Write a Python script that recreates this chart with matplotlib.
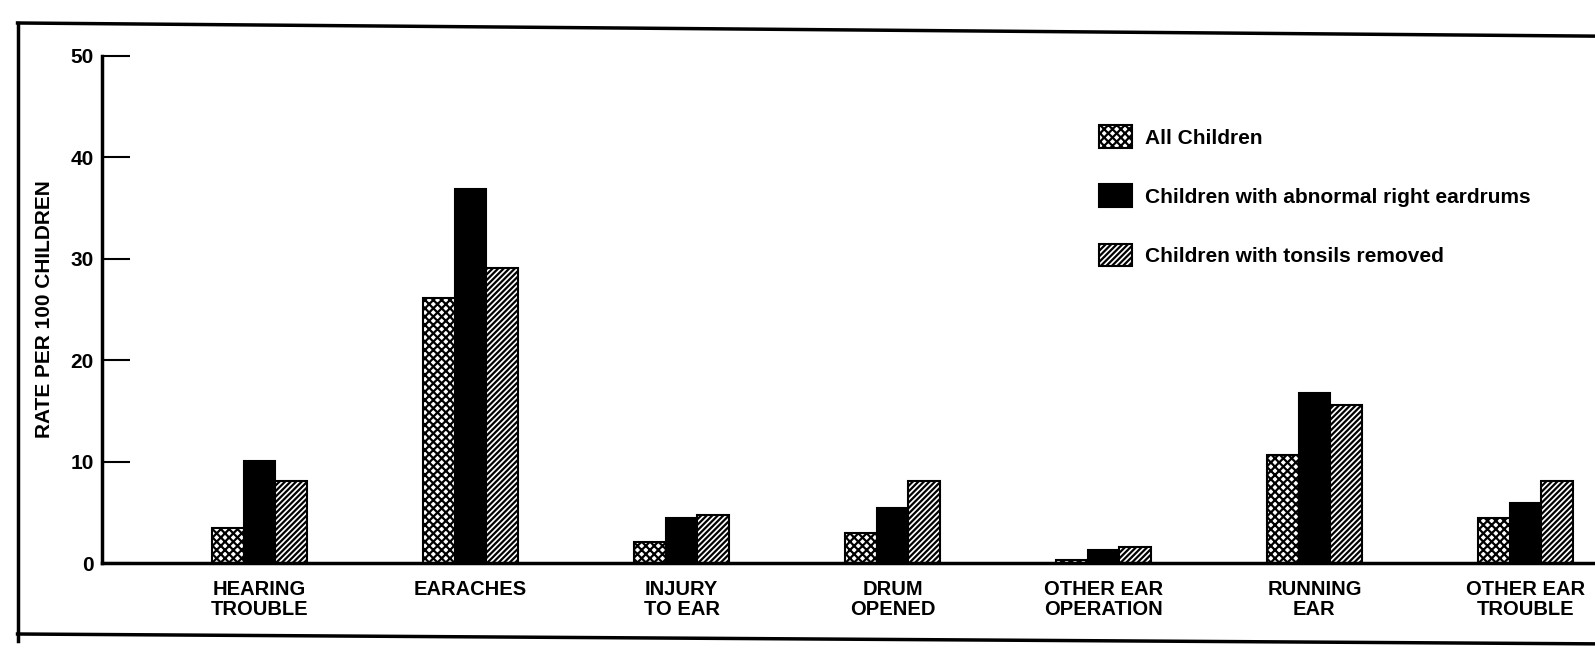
import numpy as np
import matplotlib.pyplot as plt
from matplotlib.lines import Line2D

# values (rate per 100 children)
categories = ["HEARING\nTROUBLE", "EARACHES", "INJURY\nTO EAR", "DRUM\nOPENED",
              "OTHER EAR\nOPERATION", "RUNNING\nEAR", "OTHER EAR\nTROUBLE"]
all_children = [3.5, 26.1, 2.1, 3.0, 0.3, 10.7, 4.4]
abnormal_eardrums = [10.1, 36.9, 4.4, 5.4, 1.3, 16.8, 5.9]
tonsils_removed = [8.1, 29.1, 4.7, 8.1, 1.6, 15.6, 8.1]
series_names = ["All Children", "Children with abnormal right eardrums",
                "Children with tonsils removed"]
yticks = [0, 10, 20, 30, 40, 50]

plt.rcParams['font.family'] = ['Liberation Sans', 'DejaVu Sans']
plt.rcParams['hatch.linewidth'] = 1.6

fig = plt.figure(figsize=(15.95, 6.57), dpi=100)
ax = fig.add_axes([0.064, 0.143, 0.936, 0.772])

x = np.arange(len(categories))
w = 0.15
ax.bar(x - w, all_children, w, color='white', edgecolor='black', hatch='xxxx',
       linewidth=1.5, label=series_names[0])
ax.bar(x, abnormal_eardrums, w, color='black', edgecolor='black',
       linewidth=1.5, label=series_names[1])
ax.bar(x + w, tonsils_removed, w, color='white', edgecolor='black', hatch='//////',
       linewidth=1.5, label=series_names[2])

ax.set_xlim(-0.747, 6.33)
ax.set_ylim(0, 50)
ax.set_yticks(yticks)
ax.set_yticklabels([str(t) for t in yticks], fontsize=15, fontweight='bold')
ax.tick_params(axis='y', direction='in', length=20, width=1.5, pad=6)
ax.set_xticks(x)
ax.set_xticklabels(categories, fontsize=14.5, fontweight='bold', linespacing=1.1)
ax.tick_params(axis='x', length=0, pad=12)
for s in ['top', 'right']:
    ax.spines[s].set_visible(False)
ax.spines['left'].set_linewidth(2.5)
ax.spines['bottom'].set_linewidth(2.5)
ax.set_ylabel("RATE PER 100 CHILDREN", fontsize=15, fontweight='bold', labelpad=12)

ax.legend(loc='upper left', bbox_to_anchor=(0.655, 0.9), frameon=False,
          labelspacing=1.75, handlelength=1.6, handleheight=1.3, handletextpad=0.6,
          prop={'weight': 'bold', 'size': 15})

# frame around the figure, as in the scan
fig.add_artist(Line2D([0.011, 0.011], [0.025, 0.965], color='black', lw=2.5))
fig.add_artist(Line2D([0.011, 1.0], [0.965, 0.945], color='black', lw=2.5))
fig.add_artist(Line2D([0.011, 1.0], [0.035, 0.02], color='black', lw=2.5))

fig.savefig("out.png", dpi=100)
